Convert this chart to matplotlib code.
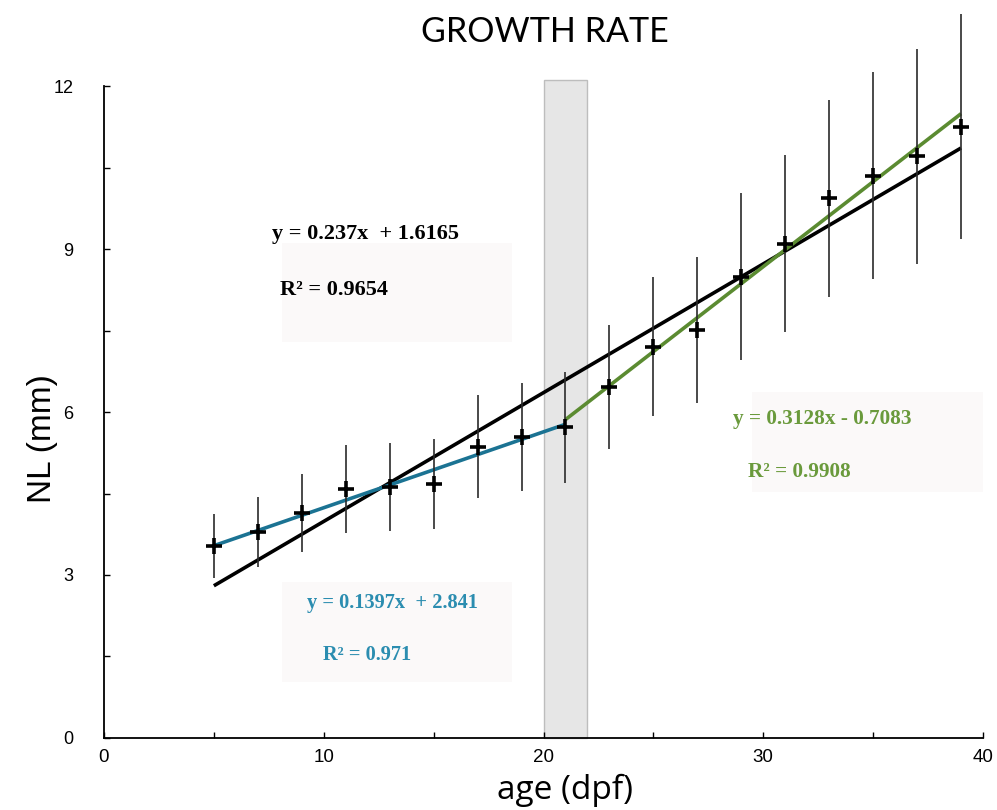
import numpy as np
import matplotlib.pyplot as plt
from matplotlib.patches import Rectangle

# data
age = [5, 7, 9, 11, 13, 15, 17, 19, 21, 23, 25, 27, 29, 31, 33, 35, 37, 39]
nl = [3.53, 3.79, 4.14, 4.58, 4.62, 4.68, 5.36, 5.54, 5.72, 6.46,
      7.20, 7.51, 8.49, 9.10, 9.93, 10.35, 10.71, 11.25]
nl_err = [0.59, 0.65, 0.72, 0.81, 0.81, 0.83, 0.95, 0.99, 1.02, 1.15,
          1.28, 1.35, 1.54, 1.63, 1.81, 1.90, 1.98, 2.07]

# fits: (slope, intercept, x start, x end)
fit_all = (0.237, 1.6165, 5, 39)
fit_early = (0.1397, 2.841, 5, 21)
fit_late = (0.3128, -0.7083, 21, 39)

BLUE = '#1b7393'
GREEN = '#5b8b31'
BLUE_TXT = '#2b8db0'
GREEN_TXT = '#6a9a3c'
BOX = '#fbf9f9'

fig = plt.figure(figsize=(9.97, 8.10), dpi=100)
ax = fig.add_axes([0.1043, 0.0889, 0.8817, 0.8049])

# shaded window around 20-22 dpf
ax.add_patch(Rectangle((20, 0), 2, 12.12, facecolor='#e6e6e6',
                       edgecolor='#bdbdbd', lw=1.0, zorder=1, clip_on=False))

# text boxes
ax.add_patch(Rectangle((8.08, 7.29), 10.5, 1.82, facecolor=BOX, edgecolor='none', zorder=0))
ax.add_patch(Rectangle((8.08, 1.03), 10.5, 1.84, facecolor=BOX, edgecolor='none', zorder=0))
ax.add_patch(Rectangle((29.5, 4.52), 10.5, 1.84, facecolor=BOX, edgecolor='none',
                       zorder=0, clip_on=False))

for (m, b, x0, x1), col in [(fit_all, 'black'), (fit_early, BLUE), (fit_late, GREEN)]:
    xs = np.array([x0, x1])
    ax.plot(xs, m * xs + b, color=col, lw=2.6, zorder=3, solid_capstyle='butt')

ax.errorbar(age, nl, yerr=nl_err, fmt='none', ecolor='#2b2b2b', elinewidth=1.2,
            capsize=0, zorder=4, clip_on=False)
ax.plot(age, nl, ls='none', marker='+', ms=12, mew=2.6, color='black', zorder=5)

serif = dict(family='Liberation Serif', fontweight='bold', va='center')
ax.text(7.65, 9.27, 'y = 0.237x  + 1.6165', color='black', fontsize=16, **serif)
ax.text(8.0, 8.24, 'R² = 0.9654', color='black', fontsize=16, **serif)
ax.text(9.25, 2.48, 'y = 0.1397x  + 2.841', color=BLUE_TXT, fontsize=14.7, **serif)
ax.text(9.95, 1.52, 'R² = 0.971', color=BLUE_TXT, fontsize=14.7, **serif)
ax.text(28.6, 5.87, 'y = 0.3128x - 0.7083', color=GREEN_TXT, fontsize=15.3, **serif)
ax.text(29.3, 4.89, 'R² = 0.9908', color=GREEN_TXT, fontsize=15.3, **serif)

ax.set_xlim(0, 40)
ax.set_ylim(0, 12)
ax.set_xticks([0, 10, 20, 30, 40])
ax.set_xticks([5, 15, 25, 35], minor=True)
ax.set_yticks([0, 3, 6, 9, 12])
ax.set_yticks([1.5, 4.5, 7.5, 10.5], minor=True)
ax.tick_params(which='both', direction='in', length=4, width=1.0, color='black')
ax.tick_params(axis='y', labelsize=13, pad=22)
ax.tick_params(axis='x', labelsize=13.5, pad=8)
for lab in ax.get_xticklabels() + ax.get_yticklabels():
    lab.set_family('Liberation Sans')

for s in ['top', 'right']:
    ax.spines[s].set_visible(False)
for s in ['left', 'bottom']:
    ax.spines[s].set_linewidth(1.3)

ax.set_xlabel('age (dpf)', fontsize=24, family='Open Sans', va='baseline')
ax.xaxis.set_label_coords(0.567, 0.013, transform=fig.transFigure)
ax.set_ylabel('NL (mm)', fontsize=24, family='Liberation Sans')
ax.yaxis.set_label_coords(-0.052, 0.46)
fig.text(0.547, 0.96, 'GROWTH RATE', fontsize=24.5, family='Lato', ha='center', va='center')

fig.savefig('out.png', dpi=100)
